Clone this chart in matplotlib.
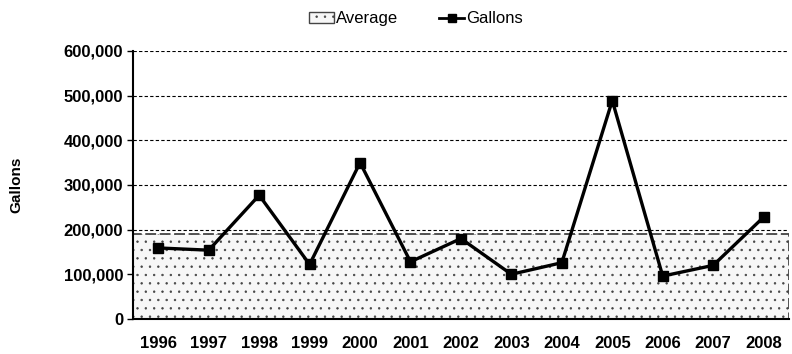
import matplotlib.pyplot as plt
from matplotlib.patches import Patch
from matplotlib.lines import Line2D
from matplotlib.ticker import FuncFormatter

plt.rcParams['font.family'] = ['Liberation Sans', 'DejaVu Sans']
plt.rcParams['hatch.color'] = '#bdbdbd'
plt.rcParams['hatch.linewidth'] = 0.5

years = ['1996', '1997', '1998', '1999', '2000', '2001', '2002',
         '2003', '2004', '2005', '2006', '2007', '2008']
gallons = [159000, 154000, 277000, 122000, 350000, 128000, 180000,
           100000, 126000, 489000, 96000, 120000, 228000]
average = 190000

fig = plt.figure(figsize=(7.92, 3.54), dpi=100)
ax = fig.add_axes([0.168, 0.099, 0.828, 0.757])

x = list(range(len(years)))

# shaded average band across the whole category range
ax.fill_between([-0.5, len(years) - 0.5], [0, 0], [average, average],
                facecolor='#f7f7f7', edgecolor='#444444', hatch='..',
                linewidth=1.3, linestyle=(0, (6, 2)), zorder=1)

ax.plot(x, gallons, color='black', linewidth=2.4, marker='s',
        markersize=7.5, zorder=3)

ax.set_xlim(-0.5, len(years) - 0.5)
ax.set_ylim(0, 600000)
ax.set_yticks(range(0, 600001, 100000))
ax.yaxis.set_major_formatter(FuncFormatter(lambda v, p: f'{int(v):,}'))
ax.set_xticks(x)
ax.set_xticklabels(years)

ax.grid(axis='y', color='black', linestyle=(0, (3, 2)), linewidth=0.8, zorder=0)
ax.set_axisbelow(True)

for s in ['top', 'right']:
    ax.spines[s].set_visible(False)
ax.spines['left'].set_linewidth(1.5)
ax.spines['bottom'].set_linewidth(1.5)

ax.tick_params(axis='y', length=4, width=1, labelsize=12, pad=3)
ax.tick_params(axis='x', length=0, labelsize=12, pad=12)
for lbl in ax.get_xticklabels() + ax.get_yticklabels():
    lbl.set_fontweight('bold')

ax.set_ylabel('Gallons', fontsize=11, fontweight='bold', labelpad=29)

handles = [
    Patch(facecolor='#f7f7f7', edgecolor='#444444', hatch='..', linewidth=1),
    Line2D([0], [0], color='black', linewidth=2, marker='s', markersize=6),
]
fig.legend(handles, ['Average', 'Gallons'], loc='upper center',
           bbox_to_anchor=(0.525, 1.01), ncol=2, frameon=False, fontsize=12,
           handlelength=1.5, handletextpad=0.1, columnspacing=2.5)

fig.savefig('out.png', dpi=100)
